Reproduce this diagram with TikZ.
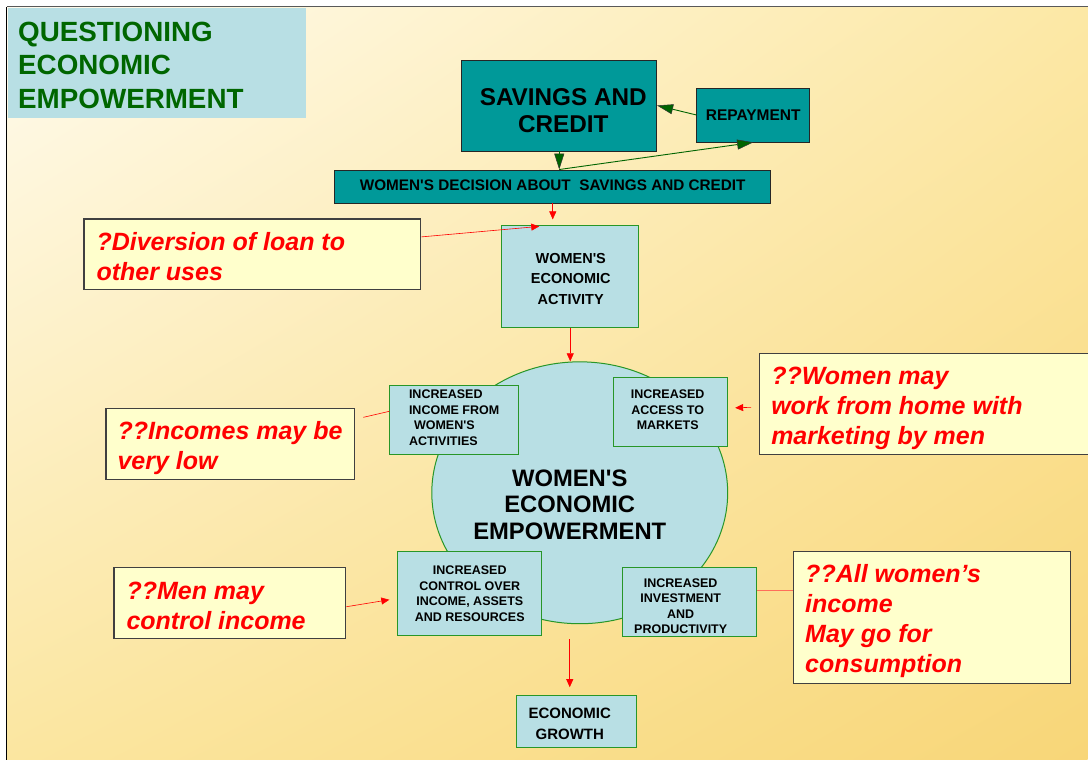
\documentclass[tikz,border=0pt]{standalone}
\usepackage{fontspec}
\setmainfont{Liberation Sans}[Ligatures=TeXOff]
\usetikzlibrary{shapes.geometric,arrows.meta,shadings}
\definecolor{teal1}{RGB}{0,153,153}
\definecolor{cyanl}{RGB}{184,223,228}
\definecolor{gborder}{RGB}{40,150,40}
\definecolor{noteY}{RGB}{255,255,204}
\definecolor{titleG}{RGB}{0,102,0}
\definecolor{arrG}{RGB}{0,100,0}
\definecolor{bgA}{RGB}{255,251,238}
\definecolor{bgB}{RGB}{252,232,165}
\definecolor{bgC}{RGB}{251,230,160}
\definecolor{bgD}{RGB}{248,214,120}
\definecolor{salmon1}{RGB}{255,110,90}
\newcommand{\fsz}[2]{\fontsize{#1pt}{#2pt}\selectfont}
\begin{document}
\begin{tikzpicture}[x=1pt,y=-1pt,
  tealbox/.style={draw=black!85,fill=teal1,line width=0.8pt,inner sep=0pt,align=center,text=black},
  cbox/.style={draw=gborder,fill=cyanl,line width=1pt,inner sep=0pt,text=black},
  plaintext/.style={inner sep=0pt,align=center,text=black},
  notebox/.style={draw=black!75,fill=noteY,line width=1.2pt,inner sep=0pt},
  notetext/.style={anchor=west,inner sep=0pt,align=left,text=red,font=\bfseries\itshape\fsz{25}{30}},
  redarrow/.style={red,line width=0.6pt,-{Triangle[length=8pt,width=7pt]}},
  redline/.style={red,line width=0.6pt},
  greenarrow/.style={arrG,line width=0.9pt,-{Triangle[length=16pt,width=10pt,color=black!80,fill=arrG,line width=0.5pt]}},
]
% background
\fill[white] (0,0) rectangle (1088,760);
\shade[upper left=bgA, upper right=bgB, lower left=bgC, lower right=bgD] (7,7) rectangle (1088,760);
\draw[black!65,line width=1pt] (7,7) -- (1088,7);
\draw[black,line width=1pt] (7,7) -- (7,760);
\useasboundingbox (0,0) rectangle (1088,760);

% title
\node[fill=cyanl,minimum width=298pt,minimum height=110pt,inner sep=0pt,anchor=north west] (title) at (8,8) {};
\node[anchor=west,inner sep=0pt,align=left,text=titleG,font=\bfseries\fsz{27.8}{33.5}] (titletext) at (18,65) {QUESTIONING\\ECONOMIC\\EMPOWERMENT};

% savings cycle
\node[tealbox,minimum width=195pt,minimum height=91pt] (savings) at (559.5,105.5) {};
\node[plaintext,font=\bfseries\fsz{24.3}{26.5}] (savingstext) at (563.5,110.5) {SAVINGS AND\\CREDIT};
\node[tealbox,minimum width=113pt,minimum height=54pt,font=\bfseries\fsz{15.5}{17}] (repayment) at (753.5,115) {\raisebox{-1pt}{REPAYMENT}};
\node[tealbox,minimum width=436pt,minimum height=33pt,font=\bfseries\fsz{15.3}{17}] (decision) at (553,186.5) {\raisebox{2.5pt}{WOMEN'S DECISION ABOUT \ SAVINGS AND CREDIT}};

% activity
\node[cbox,minimum width=137pt,minimum height=102pt] (activity) at (570.5,277) {};
\node[plaintext,font=\bfseries\fsz{14.5}{20.5}] (activitytext) at (571,279) {WOMEN'S\\ECONOMIC\\ACTIVITY};

% empowerment ellipse
\node[ellipse,draw=gborder,fill=cyanl,line width=1pt,minimum width=296pt,minimum height=262pt,inner sep=0pt] (empower) at (580,493) {};
\node[plaintext,font=\bfseries\fsz{23.8}{26.5}] (empowertext) at (570,505) {WOMEN'S\\ECONOMIC\\EMPOWERMENT};

% small boxes
\node[cbox,minimum width=129pt,minimum height=69pt] (income) at (454.5,420.5) {};
\node[anchor=west,inner sep=0pt,align=left,font=\bfseries\fsz{12.5}{15.5}] (incometext) at (409,418) {INCREASED\\INCOME FROM\\\hspace*{5pt}WOMEN'S\\ACTIVITIES};
\node[cbox,minimum width=114pt,minimum height=69pt] (access) at (671,412.5) {};
\node[plaintext,font=\bfseries\fsz{12.5}{15.5}] (accesstext) at (668,410) {INCREASED\\ACCESS TO\\MARKETS};
\node[cbox,minimum width=144pt,minimum height=84pt,align=center,font=\bfseries\fsz{12.5}{15.5}] (control) at (470,594) {INCREASED\\CONTROL OVER\\INCOME, ASSETS\\AND RESOURCES};
\node[cbox,minimum width=134pt,minimum height=69pt] (investment) at (690,602.5) {};
\node[plaintext,font=\bfseries\fsz{12.5}{15.5}] (investmenttext) at (681,606.5) {INCREASED\\INVESTMENT\\AND\\PRODUCTIVITY};
\node[cbox,minimum width=120pt,minimum height=52pt] (growth) at (577,722) {};
\node[plaintext,font=\bfseries\fsz{15}{21}] (growthtext) at (570,724) {ECONOMIC\\GROWTH};

% notes
\node[notebox,minimum width=337pt,minimum height=71pt] (diversion) at (252.5,254.5) {};
\node[notetext] (diversiontext) at ([shift={(13pt,-2pt)}]diversion.west) {?Diversion of loan to\\other uses};
\node[notebox,minimum width=249pt,minimum height=71pt] (incomes) at (230.5,444.5) {};
\node[notetext] (incomestext) at ([shift={(12pt,-3.5pt)}]incomes.west) {??Incomes may be\\very low};
\node[notebox,minimum width=330pt,minimum height=101pt] (womenmay) at (925,404.5) {};
\node[notetext] (womenmaytext) at ([shift={(12pt,-4pt)}]womenmay.west) {??Women may\\work from home with\\marketing by men};
\node[notebox,minimum width=232pt,minimum height=71pt] (menmay) at (230,603.5) {};
\node[notetext] (menmaytext) at ([shift={(13pt,-2.5pt)}]menmay.west) {??Men may\\control income};
\node[notebox,minimum width=277pt,minimum height=132pt] (allwomen) at (932.5,618) {};
\node[notetext] (allwomentext) at ([shift={(12pt,-3.5pt)}]allwomen.west) {??All women’s\\income\\May go for\\consumption};

% green cycle arrows
\draw[greenarrow] (savings.south) -- (savings.south |- decision.north);
\draw[greenarrow] (savings.south |- decision.north) -- (repayment.south);
\draw[greenarrow] (repayment.west) -- (savings.east);

% red arrows
\draw[redarrow] (decision.south) -- ([yshift=6pt]decision.south |- activity.north);
\draw[redarrow] ([yshift=17.5pt]diversion.east) -- ([xshift=38pt,yshift=-1pt]activity.north west);
\draw[redarrow] (activity.south) -- (activity.south |- empower.north);
\draw[redline] ([shift={(8pt,27pt)}]incomes.east) -- ([yshift=9pt]income.west);
\draw[redarrow] ([shift={(-8pt,-3pt)}]womenmay.west) -- ([shift={(7pt,4.5pt)}]access.east);
\draw[redarrow] ([yshift=-3.5pt]menmay.east) -- ([shift={(-8pt,-6pt)}]control.west);
\draw[salmon1,line width=0.8pt] ([yshift=11.5pt]investment.east) -- ([yshift=27pt]allwomen.west);
\draw[redarrow] ([shift={(-10pt,-15pt)}]empower.south) -- ([shift={(-7pt,8pt)}]growth.north);
\end{tikzpicture}
\end{document}
